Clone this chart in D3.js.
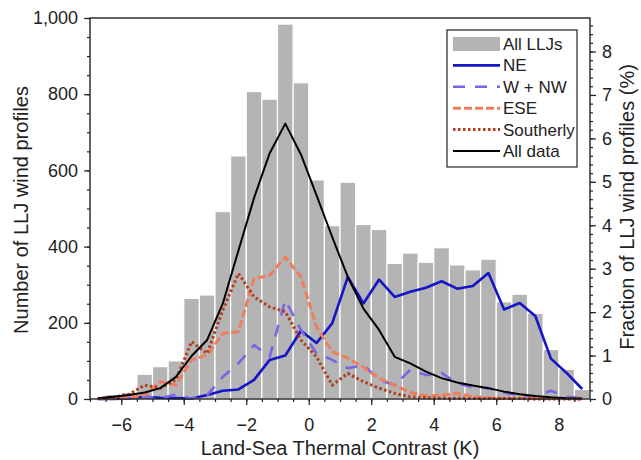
<!DOCTYPE html>
<html>
<head>
<meta charset="utf-8">
<script src="https://cdn.jsdelivr.net/npm/d3@7"></script>
<style>
  body { margin: 0; background: #fff; }
  text { font-family: "Liberation Sans", Arial, sans-serif; fill: #222; }
</style>
</head>
<body>
<script>
// bin centres (K), 0.5 K wide bins
let binCenters = [-6.75, -6.25, -5.75, -5.25, -4.75, -4.25, -3.75, -3.25, -2.75, -2.25,
    -1.75, -1.25, -0.75, -0.25, 0.25, 0.75, 1.25, 1.75, 2.25, 2.75,
    3.25, 3.75, 4.25, 4.75, 5.25, 5.75, 6.25, 6.75, 7.25, 7.75, 8.25, 8.75];

// counts of LLJ profiles per bin (left axis)
let allLLJs = [3, 12, 17, 65, 85, 100, 264, 273, 492, 638,
    807, 787, 984, 830, 575, 455, 569, 458, 445, 356,
    383, 359, 397, 352, 339, 367, 255, 275, 225, 130, 78, 25];

// fractions in % (right axis)
let neVals = [0, 0, 0.01, 0.05, 0.03, 0.02, 0.01, 0.09, 0.19, 0.22,
    0.44, 0.9, 1.0, 1.57, 1.29, 1.74, 2.81, 2.2, 2.75, 2.35,
    2.47, 2.56, 2.71, 2.54, 2.6, 2.9, 2.06, 2.21, 1.91, 0.93, 0.6, 0.23];
let wnwVals = [0, 0.01, 0.02, 0.05, 0.02, 0.1, 0.01, 0.09, 0.51, 0.82,
    1.24, 0.97, 2.28, 1.59, 1.05, 0.9, 0.71, 0.78, 0.44, 0.32,
    0.67, 0.55, 0.6, 0.36, 0.27, 0.25, 0.15, 0.07, 0.05, 0.19, 0.05, 0.02];
let eseVals = [0.01, 0.02, 0.03, 0.09, 0.4, 0.32, 0.9, 1.01, 1.51, 1.55,
    2.77, 2.85, 3.27, 2.81, 1.66, 1.09, 0.94, 0.73, 0.48, 0.32,
    0.15, 0.07, 0.09, 0.13, 0.05, 0.03, 0.02, 0.02, 0.01, 0.01, 0.01, 0];
let southVals = [0.01, 0.04, 0.11, 0.32, 0.25, 0.44, 1.32, 1.05, 2.05, 2.89,
    2.35, 2.12, 2.01, 1.36, 0.97, 0.32, 0.59, 0.4, 0.25, 0.13,
    0.05, 0.03, 0.02, 0.02, 0.01, 0.01, 0.01, 0.01, 0, 0, 0, 0];
let allDataVals = [0.02, 0.05, 0.09, 0.15, 0.25, 0.51, 0.99, 1.36, 2.2, 3.42,
    4.63, 5.66, 6.34, 5.63, 4.69, 3.73, 2.81, 2.08, 1.59, 0.97,
    0.82, 0.63, 0.48, 0.38, 0.31, 0.25, 0.17, 0.11, 0.07, 0.04, 0.02, 0.01];

let xTicks = [-6, -4, -2, 0, 2, 4, 6, 8];
let leftTicks = [0, 200, 400, 600, 800, 1000];
let rightTicks = [0, 1, 2, 3, 4, 5, 6, 7, 8];

let series = [
    {name: "NE", values: neVals, color: "#1414c8", width: 2.6, dash: null},
    {name: "W + NW", values: wnwVals, color: "#7767e6", width: 2.6, dash: "12,10"},
    {name: "ESE", values: eseVals, color: "#ef7d5e", width: 3, dash: "8,3"},
    {name: "Southerly", values: southVals, color: "#b23c1e", width: 3, dash: "2.5,2.5"},
    {name: "All data", values: allDataVals, color: "#000", width: 2, dash: null}
];

let w = 641, h = 460;
let mLeft = 90, mRight = 590, mTop = 18, mBottom = 399;

let svg = d3.select("body").append("svg")
    .attr("width", w)
    .attr("height", h);

let x = d3.scaleLinear().domain([-7, 9]).range([mLeft, mRight]);
let y = d3.scaleLinear().domain([0, 1000]).range([mBottom, mTop]);
// right axis: share of all LLJ profiles
let total = d3.sum(allLLJs);
let yR = d3.scaleLinear().domain([0, 1000 / total * 100]).range([mBottom, mTop]);

// bars
svg.selectAll(".bar")
    .data(allLLJs)
    .enter()
    .append("rect")
    .attr("class", "bar")
    .attr("x", (d, i) => x(binCenters[i] - 0.25))
    .attr("width", (d, i) => x(binCenters[i] + 0.25) - x(binCenters[i] - 0.25))
    .attr("y", d => y(d))
    .attr("height", d => mBottom - y(d))
    .style("fill", "#b4b4b4")
    .style("stroke", "#fff")
    .style("stroke-width", 1.2);

// lines
let line = d3.line()
    .x((d, i) => x(binCenters[i]))
    .y(d => yR(d));

series.forEach(s => {
    svg.append("path")
        .datum(s.values)
        .attr("d", line)
        .style("fill", "none")
        .style("stroke", s.color)
        .style("stroke-width", s.width)
        .style("stroke-dasharray", s.dash)
        .style("stroke-linejoin", "round");
});

// axes
function styleAxis(g) {
    g.select(".domain").remove();
    g.selectAll("line").style("stroke", "#222").style("stroke-width", 1.2);
    g.selectAll("text").style("font-size", "18px").style("fill", "#222")
        .style("font-family", "'Liberation Sans', Arial, sans-serif");
}

// minor ticks
svg.append("g")
    .attr("transform", `translate(0,${mBottom})`)
    .call(d3.axisBottom(x).tickValues(d3.range(-7, 9.01, 0.5)).tickSize(3).tickFormat(""))
    .call(styleAxis);
svg.append("g")
    .attr("transform", `translate(${mLeft},0)`)
    .call(d3.axisLeft(y).tickValues(d3.range(0, 1001, 50)).tickSize(3).tickFormat(""))
    .call(styleAxis);
svg.append("g")
    .attr("transform", `translate(${mRight},0)`)
    .call(d3.axisRight(yR).tickValues(d3.range(0, 8.75, 0.2)).tickSize(3).tickFormat(""))
    .call(styleAxis);

// major ticks
svg.append("g")
    .attr("transform", `translate(0,${mBottom})`)
    .call(d3.axisBottom(x).tickValues(xTicks).tickSize(6).tickPadding(13).tickFormat(d3.format("")))
    .call(styleAxis);
svg.append("g")
    .attr("transform", `translate(${mLeft},0)`)
    .call(d3.axisLeft(y).tickValues(leftTicks).tickSize(6).tickPadding(6).tickFormat(d3.format(",")))
    .call(styleAxis);
svg.append("g")
    .attr("transform", `translate(${mRight},0)`)
    .call(d3.axisRight(yR).tickValues(rightTicks).tickSize(6).tickPadding(6).tickFormat(d3.format("")))
    .call(styleAxis);

// frame
svg.append("rect")
    .attr("x", mLeft)
    .attr("y", mTop)
    .attr("width", mRight - mLeft)
    .attr("height", mBottom - mTop)
    .style("fill", "none")
    .style("stroke", "#222")
    .style("stroke-width", 1.4);

// axis titles
svg.append("text")
    .attr("x", (mLeft + mRight) / 2)
    .attr("y", 455)
    .attr("text-anchor", "middle")
    .style("font-size", "20px")
    .text("Land-Sea Thermal Contrast (K)");

svg.append("text")
    .attr("transform", "translate(28,210) rotate(-90)")
    .attr("text-anchor", "middle")
    .style("font-size", "20px")
    .text("Number of LLJ wind profiles");

svg.append("text")
    .attr("transform", "translate(634,207) rotate(-90)")
    .attr("text-anchor", "middle")
    .style("font-size", "20px")
    .text("Fraction of LLJ wind profiles (%)");

// legend
let legend = svg.append("g").attr("class", "legend");
legend.append("rect")
    .attr("x", 447)
    .attr("y", 30)
    .attr("width", 130)
    .attr("height", 137)
    .style("fill", "#fff")
    .style("stroke", "#222")
    .style("stroke-width", 1.2);

let rowY = d3.scaleLinear().domain([0, 5]).range([44, 151]);

legend.append("rect")
    .attr("x", 453)
    .attr("y", rowY(0) - 7)
    .attr("width", 47)
    .attr("height", 14)
    .style("fill", "#b4b4b4");
legend.append("text")
    .attr("x", 503)
    .attr("y", rowY(0) + 6)
    .style("font-size", "17px")
    .text("All LLJs");

series.forEach((s, i) => {
    legend.append("line")
        .attr("x1", 453)
        .attr("x2", 500)
        .attr("y1", rowY(i + 1))
        .attr("y2", rowY(i + 1))
        .style("stroke", s.color)
        .style("stroke-width", s.width)
        .style("stroke-dasharray", s.dash);
    legend.append("text")
        .attr("x", 503)
        .attr("y", rowY(i + 1) + 6)
        .style("font-size", "17px")
        .text(s.name);
});
</script>
</body>
</html>
